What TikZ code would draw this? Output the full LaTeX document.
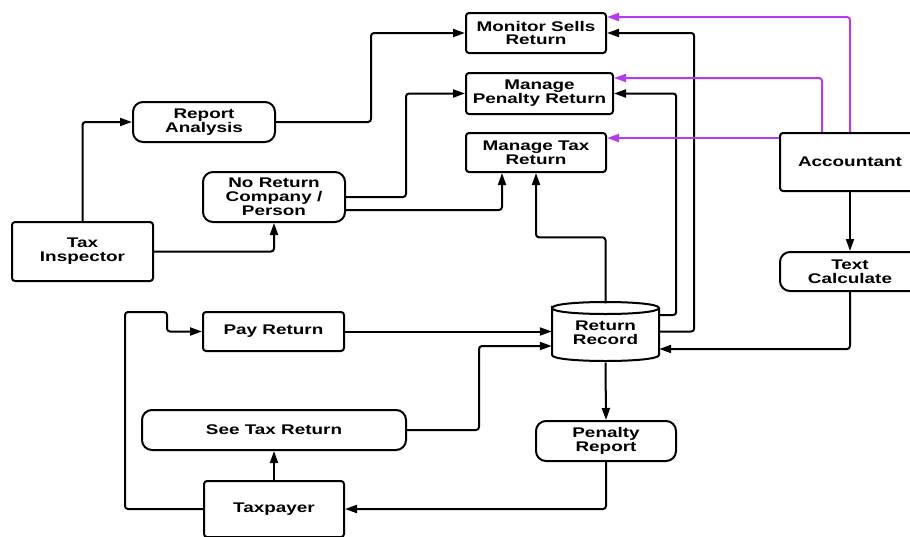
\documentclass[tikz,border=0pt]{standalone}
\usepackage{fontspec}
\setmainfont{Liberation Sans}[FakeStretch=1.35]
\usetikzlibrary{arrows.meta,calc}
\definecolor{acclink}{RGB}{180,60,235}
\begin{document}
\begin{tikzpicture}[x=1pt,y=-1pt,
  every node/.style={font=\fontsize{14}{13.8}\selectfont\bfseries, align=center, inner sep=0pt},
  sqbox/.style={draw, line width=2pt, rounded corners=3pt},
  rbox/.style={draw, line width=2pt, rounded corners=10pt},
  arr/.style={line width=2pt, rounded corners=3pt, -{Triangle[length=12pt,width=8pt]}},
  parr/.style={arr, draw=acclink, -{Triangle[length=12pt,width=8pt,fill=acclink]}},
]
\useasboundingbox (0,0) rectangle (910,536);
\clip (0,0) rectangle (910,536);

% processes
\node[sqbox, minimum width=140pt, minimum height=40pt] (mon) at (536,33) {Monitor Sells\\Return};
\node[sqbox, minimum width=147pt, minimum height=41pt] (pen) at (539.5,93.5) {Manage\\Penalty Return};
\node[sqbox, minimum width=140pt, minimum height=39pt] (tax) at (536,152.5) {Manage Tax\\Return};
\node[rbox, minimum width=142pt, minimum height=40pt] (rep) at (204,122) {Report\\Analysis};
\node[rbox, minimum width=142pt, minimum height=50pt] (nor) at (274,197) {No Return\\Company /\\Person};
\node[sqbox, minimum width=141pt, minimum height=39pt] (pay) at (273.5,331.5) {Pay Return};
\node[rbox, minimum width=264pt, minimum height=40pt] (see) at (274,430) {See Tax Return};
\node[rbox, minimum width=140pt, minimum height=40pt] (prp) at (606,441) {Penalty\\Report};
\node[rbox, minimum width=140pt, minimum height=39pt] (calc) at (850,271.5) {Text\\Calculate};

% actors
\node[sqbox, minimum width=141pt, minimum height=59pt] (insp) at (82.5,251.5) {Tax\\Inspector};
\node[sqbox, minimum width=140pt, minimum height=58pt] (acc) at (850,162) {Accountant};
\node[sqbox, minimum width=140pt, minimum height=56pt] (tp) at (274,509) {Taxpayer};

% data store
\node[minimum width=107pt, minimum height=59pt] (rr) at (605.5,333) {Return\\Record};
\draw[line width=2pt]
  (552,308) .. controls (552,300) and (659,300) .. (659,308)
            .. controls (659,316) and (552,316) .. (552,308)
  -- (552,355) .. controls (552,363) and (659,363) .. (659,355) -- (659,308);

% tax inspector flows
\draw[arr] (insp.north) |- (rep.west);
\draw[arr] (insp.east) -| (nor.south);
\draw[arr] (rep.east) -- ++(95,0) |- (mon.west);
\draw[arr] (nor.east) -- ++(60,0) |- (pen.west);
\draw[arr] ($(nor.east)+(0,13)$) -| ([xshift=-34pt]tax.south);

% return record flows
\draw[arr] (rr.north) -- ++(0,-66) -| (tax.south);
\draw[arr] ($(rr.east)+(0,-18)$) -- ++(17,0) |- (pen.east);
\draw[arr] ($(rr.east)+(0,-1.5)$) -- ++(35,0) |- (mon.east);
\draw[arr] (rr.south) -- (prp.north);
\draw[arr] (prp.south) |- (tp.east);

% accountant flows
\draw[parr] ($(acc.north west)+(0,6)$) coordinate (a1) -- (a1 -| tax.east);
\draw[parr] ([xshift=-28pt]acc.north) |- ([yshift=15.5pt]pen.east);
\draw[parr] (acc.north) |- ([yshift=16pt]mon.east);
\draw[arr] (acc.south) -- (calc.north);
\draw[arr] (calc.south) |- ($(rr.east)+(0,16)$);

% taxpayer flows
\draw[arr] (pay.east) -- (pay.east -| rr.west);
\draw[arr] (see.east) -- ++(72,0) |- ($(rr.west)+(0,13)$);
\draw[arr] (tp.north) -- (see.south);
\draw[arr] (tp.west) -| (125,312) -- (167,312) |- (pay.west);
\end{tikzpicture}
\end{document}
